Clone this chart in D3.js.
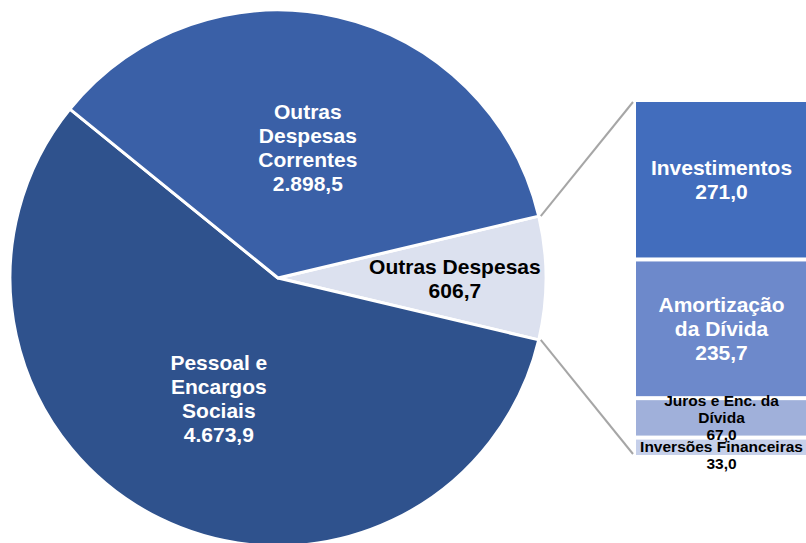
<!DOCTYPE html>
<html>
<head>
<meta charset="utf-8">
<script src="https://cdn.jsdelivr.net/npm/d3@7/dist/d3.min.js"></script>
<style>
  html, body { margin: 0; padding: 0; background: #fff; }
  svg { display: block; }
  text { font-family: "Liberation Sans", Arial, sans-serif; font-weight: bold; }
</style>
</head>
<body>
<svg id="chart" width="806" height="543"></svg>
<script>
// ---- Data ----
const pieCategories = ["Outras Despesas", "Pessoal e Encargos Sociais", "Outras Despesas Correntes"];
const pieLabelLines = [["Outras Despesas", "606,7"], ["Pessoal e", "Encargos", "Sociais", "4.673,9"], ["Outras", "Despesas", "Correntes", "2.898,5"]];
const pieValues = [606.7, 4673.9, 2898.5];

const barCategories = ["Investimentos", "Amortização da Dívida", "Juros e Enc. da Dívida", "Inversões Financeiras"];
const barLabelLines = [["Investimentos", "271,0"], ["Amortização", "da Dívida", "235,7"], ["Juros e Enc. da", "Dívida", "67,0"], ["Inversões Financeiras", "33,0"]];
const barValues = [271.0, 235.7, 67.0, 33.0];

// ---- Styles ----
const pieColors = ["#DCE1EF", "#2F528D", "#3A60A7"];
const pieTextColors = ["#000", "#fff", "#fff"];
const pieLabelRadius = [0.66, 0.5, 0.5];
const barColors = ["#426DBD", "#6D89CB", "#A0B0DA", "#C6D0EA"];
const barTextColors = ["#fff", "#fff", "#000", "#000"];
const barFontSize = [21, 21, 15.5, 15.5];
const barLineHeight = [24, 24, 17, 17];
const barLabelShift = [0, 0, 0, 8];

const svg = d3.select("#chart");
const cx = 278, cy = 278, r = 268;

const total = d3.sum(pieValues);
const half = Math.PI * pieValues[0] / total;
const pie = d3.pie().sort(null).value(d => d)
  .startAngle(Math.PI / 2 - half).endAngle(Math.PI / 2 - half + 2 * Math.PI);
const arcs = pie(pieValues);
const arc = d3.arc().innerRadius(0).outerRadius(r);

const g = svg.append("g").attr("transform", `translate(${cx},${cy})`);
g.selectAll("path").data(arcs).join("path")
  .attr("d", arc)
  .attr("fill", (d, i) => pieColors[i])
  .attr("stroke", "#fff").attr("stroke-width", 3).attr("stroke-linejoin", "round");

// pie labels
const pieLH = 24;
arcs.forEach((a, i) => {
  const mid = (a.startAngle + a.endAngle) / 2;
  const lr = r * pieLabelRadius[i];
  const x = Math.sin(mid) * lr, y = -Math.cos(mid) * lr;
  const lines = pieLabelLines[i];
  const t = g.append("text").attr("text-anchor", "middle").attr("fill", pieTextColors[i])
    .attr("font-size", 21);
  lines.forEach((l, j) => {
    t.append("tspan").attr("x", x)
      .attr("y", y + (j - (lines.length - 1) / 2) * pieLH)
      .attr("dy", "0.36em").text(l);
  });
});

// bar of pie
const barX = 636, barW = 172;
const yScale = d3.scaleLinear().domain([0, d3.sum(barValues)]).range([100, 457]);
let acc = 0;
const segs = barValues.map((v, i) => { const s = { i, y0: acc, y1: acc + v }; acc += v; return s; });

svg.selectAll("rect.seg").data(segs).join("rect").attr("class", "seg")
  .attr("x", barX).attr("width", barW)
  .attr("y", d => yScale(d.y0) + 2)
  .attr("height", d => yScale(d.y1) - yScale(d.y0) - 4)
  .attr("fill", d => barColors[d.i]);

// connector lines
const topEdge = Math.PI / 2 - half, botEdge = Math.PI / 2 + half;
const p1 = [cx + Math.sin(topEdge) * r, cy - Math.cos(topEdge) * r];
const p2 = [cx + Math.sin(botEdge) * r, cy - Math.cos(botEdge) * r];
svg.append("line").attr("x1", p1[0] + 2).attr("y1", p1[1]).attr("x2", barX - 3).attr("y2", yScale(0) + 2)
  .attr("stroke", "#A6A6A6").attr("stroke-width", 2);
svg.append("line").attr("x1", p2[0] + 2).attr("y1", p2[1]).attr("x2", barX - 3).attr("y2", yScale(d3.sum(barValues)) - 3)
  .attr("stroke", "#A6A6A6").attr("stroke-width", 2);

// bar labels
segs.forEach(s => {
  const i = s.i;
  const cyS = (yScale(s.y0) + yScale(s.y1)) / 2 + barLabelShift[i];
  const lines = barLabelLines[i];
  const t = svg.append("text").attr("text-anchor", "middle").attr("fill", barTextColors[i])
    .attr("font-size", barFontSize[i]);
  lines.forEach((l, j) => {
    t.append("tspan").attr("x", barX + barW / 2 - 0.5)
      .attr("y", cyS + (j - (lines.length - 1) / 2) * barLineHeight[i])
      .attr("dy", "0.36em").text(l);
  });
});
</script>
</body>
</html>
